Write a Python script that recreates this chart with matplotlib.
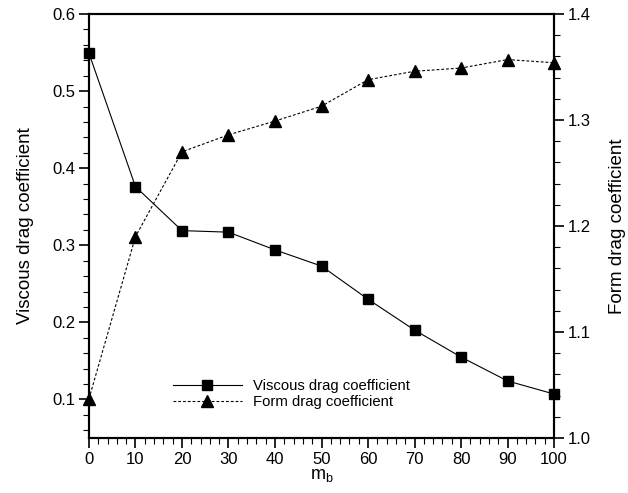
import numpy as np
import matplotlib
matplotlib.use('Agg')
import matplotlib.pyplot as plt
from matplotlib.ticker import MultipleLocator

plt.rcParams['font.family'] = ['Liberation Sans', 'DejaVu Sans']
plt.rcParams['mathtext.fontset'] = 'custom'
plt.rcParams['mathtext.rm'] = 'Liberation Sans'

# data
mb = [0, 10, 20, 30, 40, 50, 60, 70, 80, 90, 100]
viscous = [0.549, 0.376, 0.319, 0.317, 0.294, 0.273, 0.230, 0.190, 0.155, 0.124, 0.107]
form = [1.037, 1.190, 1.270, 1.286, 1.299, 1.313, 1.338, 1.346, 1.349, 1.357, 1.354]

fig = plt.figure(figsize=(6.28, 4.93), dpi=100)
ax = fig.add_axes([0.1417, 0.1116, 0.7405, 0.86])
ax2 = ax.twinx()

l1, = ax.plot(mb, viscous, '-', color='black', lw=0.8, marker='s', ms=7.5,
              label='Viscous drag coefficient', clip_on=False, zorder=5)
l2, = ax2.plot(mb, form, color='black', lw=0.8, dashes=(2.5, 1.8), marker='^', ms=8,
               label='Form drag coefficient', clip_on=False, zorder=5)

ax.set_xlim(0, 100)
ax.set_ylim(0.05, 0.6)
ax2.set_ylim(1.0, 1.4)

ax.xaxis.set_major_locator(MultipleLocator(10))
ax.xaxis.set_minor_locator(MultipleLocator(2))
ax.yaxis.set_minor_locator(MultipleLocator(0.02))
ax2.yaxis.set_minor_locator(MultipleLocator(0.02))

ax.set_yticks([0.1, 0.2, 0.3, 0.4, 0.5, 0.6])
ax.set_yticklabels(['0.1', '0.2', '0.3', '0.4', '0.5', '0.6'])
ax2.set_yticks([1.0, 1.1, 1.2, 1.3, 1.4])
ax2.set_yticklabels(['1.0', '1.1', '1.2', '1.3', '1.4'])

for a in (ax, ax2):
    for s in a.spines.values():
        s.set_linewidth(1.5)
    a.tick_params(which='major', direction='out', length=7, width=1.2, labelsize=12, pad=3)
    a.tick_params(which='minor', direction='out', length=4, width=0.8)

ax.tick_params(axis='x', which='both', top=False)
ax.tick_params(axis='y', which='both', right=False)

ax.set_xlabel('m$_\\mathrm{b}$', fontsize=13, labelpad=0)
ax.set_ylabel('Viscous drag coefficient', fontsize=13.5, labelpad=13)
ax2.set_ylabel('Form drag coefficient', fontsize=13.5, labelpad=13)

ax.legend(handles=[l1, l2], loc='lower left', bbox_to_anchor=(0.165, 0.05),
          frameon=False, fontsize=10.7, handlelength=4.6, handletextpad=0.8,
          labelspacing=0.15, borderpad=0)

fig.savefig('out.png', dpi=100)
